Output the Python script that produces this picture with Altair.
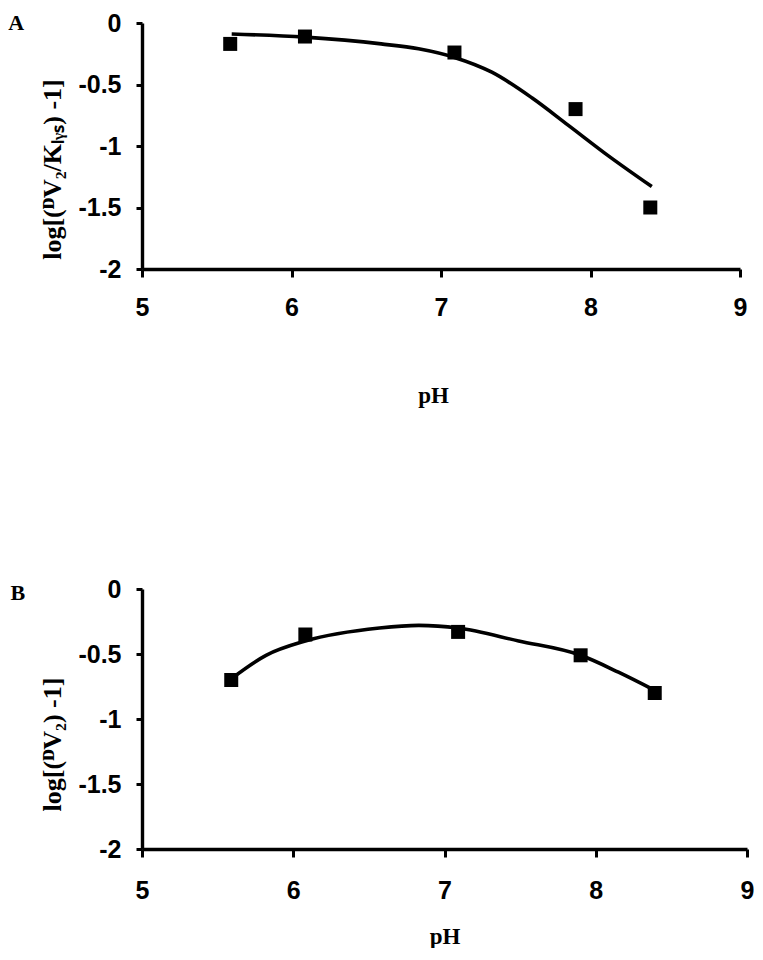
import altair as alt
import pandas as pd

# ---- data ----
ph_a = [5.59, 6.09, 7.09, 7.90, 8.40]
val_a = [-0.17, -0.11, -0.24, -0.70, -1.50]
fit_ph_a = [5.60, 6.09, 6.60, 6.85, 7.09, 7.34, 7.61, 7.85, 8.12, 8.41]
fit_val_a = [-0.09, -0.115, -0.17, -0.21, -0.28, -0.40, -0.61, -0.83, -1.08, -1.33]

ph_b = [5.59, 6.08, 7.09, 7.90, 8.39]
val_b = [-0.70, -0.35, -0.33, -0.51, -0.80]
fit_ph_b = [5.59, 5.82, 6.08, 6.57, 6.83, 7.09, 7.49, 7.90, 8.15, 8.39]
fit_val_b = [-0.69, -0.51, -0.40, -0.30, -0.28, -0.30, -0.40, -0.51, -0.64, -0.78]

x_ticks = [5, 6, 7, 8, 9]
y_ticks = [0, -0.5, -1, -1.5, -2]

title_a = "log[(ᴰV₂/Kₗᵧₛ) -1]"
title_b = "log[(ᴰV₂) -1]"

SANS = "Liberation Sans"
SERIF = "Liberation Serif"


def panel(px, pv, fx, fv, ytitle, letter, w, h, title_y, x_label_pad,
          x_title_pad, letter_dy, x_title_x=None):
    pts = pd.DataFrame({"pH": px, "v": pv})
    fit = pd.DataFrame({"pH": fx, "v": fv})
    xaxis_kw = dict(
        values=x_ticks, title="pH", grid=False,
        domainColor="black", domainWidth=3.4,
        tickColor="black", tickWidth=3, tickSize=8,
        labelFont=SANS, labelFontWeight="bold", labelFontSize=25,
        labelColor="black", labelPadding=x_label_pad, labelFlush=False,
        titleFont=SERIF, titleFontWeight="bold", titleFontSize=23,
        titleColor="black", titlePadding=x_title_pad,
    )
    if x_title_x is not None:
        xaxis_kw["titleX"] = x_title_x
    xenc = alt.X(
        "pH:Q",
        scale=alt.Scale(domain=[5, 9], nice=False, zero=False),
        axis=alt.Axis(**xaxis_kw),
    )
    yenc = alt.Y(
        "v:Q",
        scale=alt.Scale(domain=[-2, 0], nice=False, zero=False),
        axis=alt.Axis(
            values=y_ticks, title=ytitle, grid=False,
            labelExpr="'' + datum.value",
            domainColor="black", domainWidth=3.4,
            tickColor="black", tickWidth=3, tickSize=6,
            labelFont=SANS, labelFontWeight="bold", labelFontSize=25,
            labelColor="black", labelPadding=15, labelFlush=False,
            titleFont=SERIF, titleFontWeight="bold", titleFontSize=26,
            titleColor="black", titlePadding=12, titleY=title_y,
        ),
    )
    line = alt.Chart(fit).mark_line(
        color="black", strokeWidth=3.6, interpolate="monotone"
    ).encode(x=xenc, y=yenc)
    sq = alt.Chart(pts).mark_square(
        color="black", size=196, opacity=1
    ).encode(x=xenc, y=yenc)
    return alt.layer(line, sq).properties(
        width=w, height=h,
        title=alt.TitleParams(
            letter, orient="left", anchor="end", angle=0, align="right",
            baseline="alphabetic", frame="group", font=SERIF,
            fontWeight="bold", fontSize=22, color="black",
            offset=0, dy=letter_dy,
        ),
    )


chart_a = panel(ph_a, val_a, fit_ph_a, fit_val_a, title_a, "A", 598, 246,
                146, 18, 64, 7, x_title_x=291)
chart_b = panel(ph_b, val_b, fit_ph_b, fit_val_b, title_b, "B", 605, 260,
                155, 21, 22, 11)

chart = alt.vconcat(chart_a, chart_b, spacing=170).configure(
    padding={"left": 0, "top": 3, "right": 0, "bottom": 0},
    background="white",
    view=alt.ViewConfig(stroke=None),
)

chart.save("out.html", embed_options={"renderer": "svg", "actions": False})
